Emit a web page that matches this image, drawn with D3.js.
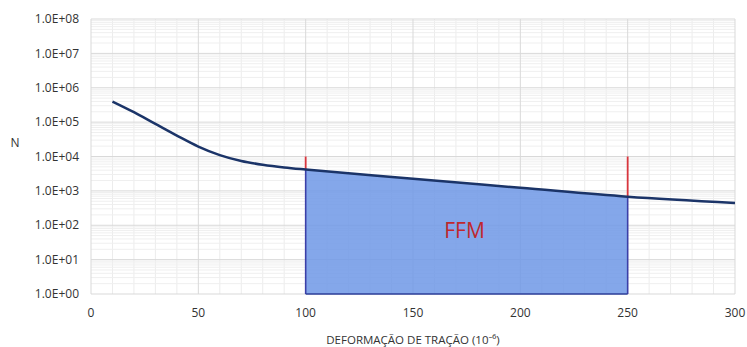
<!DOCTYPE html>
<html>
<head>
<meta charset="utf-8">
<script src="https://cdn.jsdelivr.net/npm/d3@7"></script>
<style>
  body { margin: 0; background: #fff; }
  text { font-family: "Open Sans", "Noto Sans", sans-serif; }
</style>
</head>
<body>
<div id="chart"></div>
<script>
// strain (10^-6) and number of repetitions N
const strain = [10, 20, 30, 40, 50, 60, 70, 80, 90, 100, 150, 200, 250, 300];
const cycles = [3.98e5, 1.95e5, 8.9e4, 4.07e4, 1.95e4, 1.1e4, 7.4e3, 5.75e3, 4.79e3, 4.17e3, 2.24e3, 1.23e3, 676, 447];
const xTicks = [0, 50, 100, 150, 200, 250, 300];
const yTicks = [1e0, 1e1, 1e2, 1e3, 1e4, 1e5, 1e6, 1e7, 1e8];
const ffmRange = [100, 250];
const markerTop = 1e4;

const width = 747, height = 347;
const margin = {top: 19, right: 12, bottom: 53, left: 91};

const data = strain.map((s, i) => ({x: s, y: cycles[i]}));

const x = d3.scaleLinear().domain([0, 300]).range([margin.left, width - margin.right]);
const y = d3.scaleLog().domain([1, 1e8]).range([height - margin.bottom, margin.top]);

const svg = d3.select('#chart').append('svg')
    .attr('width', width)
    .attr('height', height);

// minor grid
const minorX = d3.range(0, 301, 10).filter(v => v % 50 !== 0);
svg.append('g').selectAll('line')
    .data(minorX)
    .enter().append('line')
    .attr('x1', d => x(d)).attr('x2', d => x(d))
    .attr('y1', y(1e8)).attr('y2', y(1))
    .attr('stroke', '#ececec');

const minorY = [];
for (let e = 0; e < 8; e++) for (let k = 2; k < 10; k++) minorY.push(k * Math.pow(10, e));
svg.append('g').selectAll('line')
    .data(minorY)
    .enter().append('line')
    .attr('x1', x(0)).attr('x2', x(300))
    .attr('y1', d => y(d)).attr('y2', d => y(d))
    .attr('stroke', '#efefef');

// major grid
svg.append('g').selectAll('line')
    .data(xTicks)
    .enter().append('line')
    .attr('x1', d => x(d)).attr('x2', d => x(d))
    .attr('y1', y(1e8)).attr('y2', y(1))
    .attr('stroke', '#d9d9d9');

svg.append('g').selectAll('line')
    .data(yTicks)
    .enter().append('line')
    .attr('x1', x(0)).attr('x2', x(300))
    .attr('y1', d => y(d)).attr('y2', d => y(d))
    .attr('stroke', '#d9d9d9');

// FFM area
const ffmData = data.filter(d => d.x >= ffmRange[0] && d.x <= ffmRange[1]);
const area = d3.area()
    .x(d => x(d.x))
    .y0(y(1))
    .y1(d => y(d.y))
    .curve(d3.curveMonotoneX);

svg.append('path')
    .datum(ffmData)
    .attr('d', area)
    .attr('fill', '#6f98e6')
    .attr('fill-opacity', 0.85);

const valAt = s => cycles[strain.indexOf(s)];

// blue edges of the area
ffmRange.forEach(s => {
    svg.append('line')
        .attr('x1', x(s)).attr('x2', x(s))
        .attr('y1', y(valAt(s))).attr('y2', y(1))
        .attr('stroke', '#3b3fa8').attr('stroke-width', 1.6);
});
svg.append('line')
    .attr('x1', x(ffmRange[0])).attr('x2', x(ffmRange[1]))
    .attr('y1', y(1)).attr('y2', y(1))
    .attr('stroke', '#2e3f9a').attr('stroke-width', 1.6);

// red markers above the curve
ffmRange.forEach(s => {
    svg.append('line')
        .attr('x1', x(s)).attr('x2', x(s))
        .attr('y1', y(markerTop)).attr('y2', y(valAt(s)))
        .attr('stroke', '#d9363e').attr('stroke-width', 1.8);
});

// curve
const line = d3.line()
    .x(d => x(d.x))
    .y(d => y(d.y))
    .curve(d3.curveCatmullRom.alpha(0.5));

svg.append('path')
    .datum(data)
    .attr('d', line)
    .attr('fill', 'none')
    .attr('stroke', '#1b3468')
    .attr('stroke-width', 2.5);

// FFM label
svg.append('text')
    .attr('x', x(174))
    .attr('y', y(63))
    .attr('text-anchor', 'middle')
    .attr('dominant-baseline', 'middle')
    .attr('fill', '#c0272d')
    .attr('font-size', 21)
    .attr('font-weight', 500)
    .text('FFM');

// axis labels
svg.append('g').selectAll('text')
    .data(yTicks)
    .enter().append('text')
    .attr('x', 79)
    .attr('y', d => y(d))
    .attr('dy', '0.35em')
    .attr('text-anchor', 'end')
    .attr('font-size', 12)
    .attr('fill', '#333')
    .text(d => '1.0E+' + String(Math.round(Math.log10(d))).padStart(2, '0'));

svg.append('g').selectAll('text')
    .data(xTicks)
    .enter().append('text')
    .attr('x', d => x(d))
    .attr('y', 317)
    .attr('text-anchor', 'middle')
    .attr('font-size', 12)
    .attr('fill', '#333')
    .text(d => d);

svg.append('text')
    .attr('x', 15)
    .attr('y', 143)
    .attr('dy', '0.35em')
    .attr('text-anchor', 'middle')
    .attr('font-size', 12)
    .attr('fill', '#333')
    .text('N');

svg.append('text')
    .attr('x', 413)
    .attr('y', 344)
    .attr('text-anchor', 'middle')
    .attr('font-size', 11.5)
    .attr('fill', '#333')
    .text('DEFORMAÇÃO DE TRAÇÃO (10⁻⁶)');
</script>
</body>
</html>
